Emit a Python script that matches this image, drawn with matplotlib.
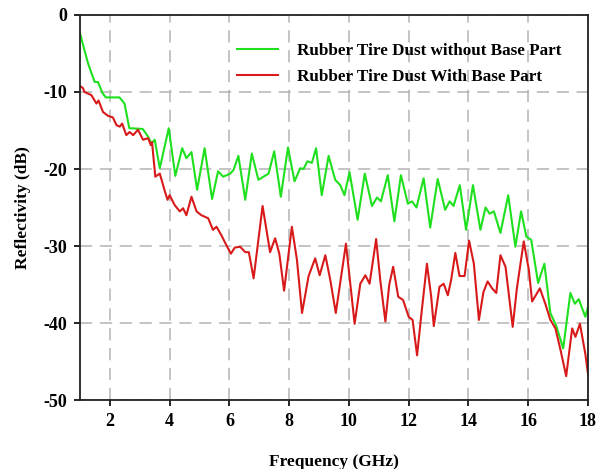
import matplotlib
matplotlib.use("Agg")
import matplotlib.pyplot as plt

# Rubber tire dust without base part (green)
freq_green = [1.0, 1.27, 1.49, 1.6, 1.76, 1.87, 2.32, 2.49, 2.65, 3.1,
              3.28, 3.39, 3.5, 3.67, 3.97, 4.19, 4.42, 4.56, 4.73, 4.92,
              5.17, 5.42, 5.62, 5.79, 6.03, 6.14, 6.30, 6.53, 6.75, 6.97,
              7.14, 7.31, 7.5, 7.72, 7.96, 8.18, 8.37, 8.48, 8.61, 8.76,
              8.9, 9.09, 9.32, 9.54, 9.71, 9.85, 10.02, 10.29, 10.53, 10.77,
              10.94, 11.07, 11.3, 11.52, 11.74, 11.97, 12.11, 12.26, 12.5, 12.72,
              12.97, 13.22, 13.37, 13.5, 13.71, 13.92, 14.15, 14.4, 14.57, 14.71,
              14.85, 15.07, 15.33, 15.57, 15.76, 15.94, 16.1, 16.33, 16.54, 16.74,
              16.94, 17.17, 17.41, 17.56, 17.69, 17.91, 18.0]
refl_green = [-2.4, -6.3, -8.7, -8.7, -10.2, -10.7, -10.7, -11.5, -14.7, -14.8,
              -15.8, -16.7, -16.2, -19.9, -14.7, -20.9, -17.3, -18.6, -17.8, -22.7,
              -17.3, -23.9, -20.3, -21.0, -20.6, -20.1, -18.3, -24.0, -18.0, -21.4,
              -21.0, -20.6, -17.7, -23.6, -17.2, -21.6, -19.9, -20.0, -19.0, -19.2,
              -17.3, -23.4, -18.3, -21.4, -22.1, -23.4, -20.4, -26.6, -20.6, -24.8,
              -23.7, -24.2, -20.8, -26.8, -20.8, -24.5, -24.2, -25.0, -21.2, -27.6,
              -21.3, -25.3, -24.2, -24.8, -22.1, -27.9, -22.1, -27.9, -25.0, -25.8,
              -25.5, -28.3, -23.4, -30.1, -25.5, -28.8, -29.2, -34.8, -32.3, -38.7,
              -40.4, -43.3, -36.1, -37.5, -36.9, -39.2, -37.9]

# Rubber tire dust with base part (red)
freq_red = [1.03, 1.1, 1.15, 1.38, 1.55, 1.62, 1.77, 1.94, 2.1, 2.22,
            2.33, 2.41, 2.55, 2.66, 2.78, 2.94, 3.11, 3.28, 3.37, 3.41,
            3.52, 3.67, 3.84, 3.93, 4.0, 4.17, 4.34, 4.45, 4.56, 4.73,
            4.9, 5.06, 5.29, 5.45, 5.57, 5.73, 5.9, 6.05, 6.18, 6.36,
            6.53, 6.65, 6.81, 7.11, 7.36, 7.53, 7.67, 7.83, 8.09, 8.26,
            8.43, 8.65, 8.87, 9.02, 9.21, 9.38, 9.56, 9.9, 10.19, 10.38,
            10.55, 10.69, 10.91, 11.05, 11.22, 11.35, 11.48, 11.65, 11.81, 12.0,
            12.13, 12.28, 12.42, 12.61, 12.75, 12.84, 13.03, 13.17, 13.31, 13.42,
            13.56, 13.7, 13.87, 14.02, 14.18, 14.35, 14.5, 14.64, 14.79, 14.93,
            15.07, 15.24, 15.48, 15.62, 15.85, 16.02, 16.13, 16.39, 16.58, 16.74,
            16.91, 17.08, 17.27, 17.47, 17.58, 17.73, 17.91, 18.0]
refl_red = [-9.3, -9.5, -10.0, -10.4, -11.5, -11.1, -12.6, -13.1, -13.3, -14.3,
            -14.5, -14.1, -15.6, -15.2, -15.6, -14.9, -16.2, -16.0, -16.9, -16.5,
            -21.0, -20.6, -22.9, -24.0, -23.4, -24.7, -25.5, -25.1, -26.0, -23.6,
            -25.5, -26.0, -26.4, -27.9, -27.5, -28.6, -29.9, -31.0, -30.2, -30.1,
            -30.8, -30.8, -34.2, -24.8, -30.8, -29.0, -31.0, -35.8, -27.5, -31.8,
            -38.7, -33.9, -31.6, -33.8, -31.2, -34.5, -38.7, -29.7, -40.1, -34.9,
            -33.8, -34.9, -29.1, -34.5, -39.8, -35.0, -32.7, -36.6, -37.0, -39.2,
            -39.6, -44.2, -39.0, -32.3, -36.5, -40.4, -35.3, -34.9, -36.4, -34.4,
            -30.9, -33.9, -33.9, -29.3, -32.3, -39.6, -36.0, -34.6, -35.5, -36.1,
            -31.2, -32.7, -40.5, -35.5, -29.4, -33.1, -37.2, -35.5, -37.6, -39.6,
            -40.7, -43.5, -46.9, -40.7, -41.8, -40.1, -44.0, -46.6]

x_ticks = [2, 4, 6, 8, 10, 12, 14, 16, 18]
y_ticks = [0, -10, -20, -30, -40, -50]

plt.rcParams['font.family'] = ['Liberation Serif', 'DejaVu Serif']
plt.rcParams['font.weight'] = 'bold'
plt.rcParams['axes.unicode_minus'] = False

fig = plt.figure(figsize=(6.03, 4.69), dpi=100)
ax = fig.add_axes([80 / 603, 1 - 400 / 469, 508 / 603, 385 / 469])

ax.plot(freq_green, refl_green, color='#1EE01E', lw=1.5,
        label='Rubber Tire Dust without Base Part')
ax.plot(freq_red, refl_red, color='#D81A1A', lw=1.5,
        label='Rubber Tire Dust With Base Part')

ax.set_xlim(1, 18)
ax.set_ylim(-50, 0)
ax.set_xticks(x_ticks)
ax.set_yticks(y_ticks)
ax.grid(True, color='#B4B4B4', linestyle=(0, (8, 5)), lw=1.1)
ax.set_axisbelow(True)
ax.tick_params(direction='out', length=4, width=1.2, labelsize=13, pad=5)
for lab in ax.get_xticklabels() + ax.get_yticklabels():
    lab.set_fontweight('bold')
for sp in ax.spines.values():
    sp.set_linewidth(1.3)
    sp.set_color('#222222')

ax.set_xlabel('Frequency (GHz)', fontsize=12.5, fontweight='bold', labelpad=18)
ax.set_ylabel('Reflectivity (dB)', fontsize=12.5, fontweight='bold', labelpad=9)

leg = ax.legend(loc='upper left', bbox_to_anchor=(0.31, 0.927), frameon=False,
                fontsize=12.3, handlelength=2.4, handletextpad=1.1,
                borderaxespad=0, borderpad=0, labelspacing=0.55)
for t in leg.get_texts():
    t.set_fontweight('bold')

fig.savefig('out.png', dpi=100)
